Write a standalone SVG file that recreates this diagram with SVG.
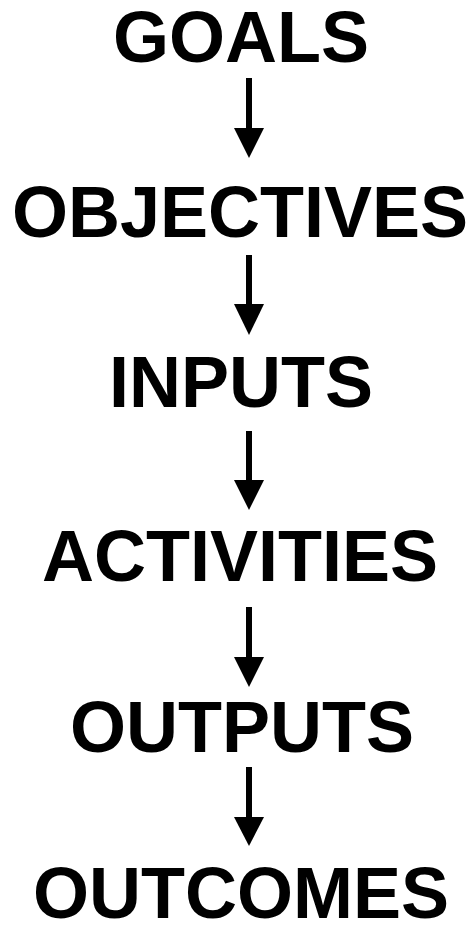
<svg xmlns="http://www.w3.org/2000/svg" width="473" height="928" viewBox="0 0 473 928">
<style>
.t{font-family:"Liberation Sans",Arial,sans-serif;font-weight:bold;font-size:72px;fill:#000;text-anchor:middle}
.s{stroke:#000;stroke-width:6;fill:none}
.h{fill:#000}
</style>
<rect width="473" height="928" fill="#fff"/>
<g id="goals"><text class="t" x="241" y="62">GOALS</text></g>
<g id="objectives"><text class="t" x="240" y="237">OBJECTIVES</text></g>
<g id="inputs"><text class="t" x="241" y="407">INPUTS</text></g>
<g id="activities"><text class="t" x="240" y="581">ACTIVITIES</text></g>
<g id="outputs"><text class="t" x="242" y="752">OUTPUTS</text></g>
<g id="outcomes"><text class="t" x="241" y="918">OUTCOMES</text></g>
<g id="connectors">
<line class="s" x1="249" y1="78" x2="249" y2="130"/><polygon class="h" points="234,128 264,128 249,158"/>
<line class="s" x1="249" y1="255" x2="249" y2="306"/><polygon class="h" points="234,304 264,304 249,335"/>
<line class="s" x1="249" y1="431" x2="249" y2="482"/><polygon class="h" points="234,480 264,480 249,510"/>
<line class="s" x1="249" y1="607" x2="249" y2="659"/><polygon class="h" points="234,657 264,657 249,687"/>
<line class="s" x1="249" y1="767" x2="249" y2="819"/><polygon class="h" points="234,817 264,817 249,846"/>
</g>
</svg>
